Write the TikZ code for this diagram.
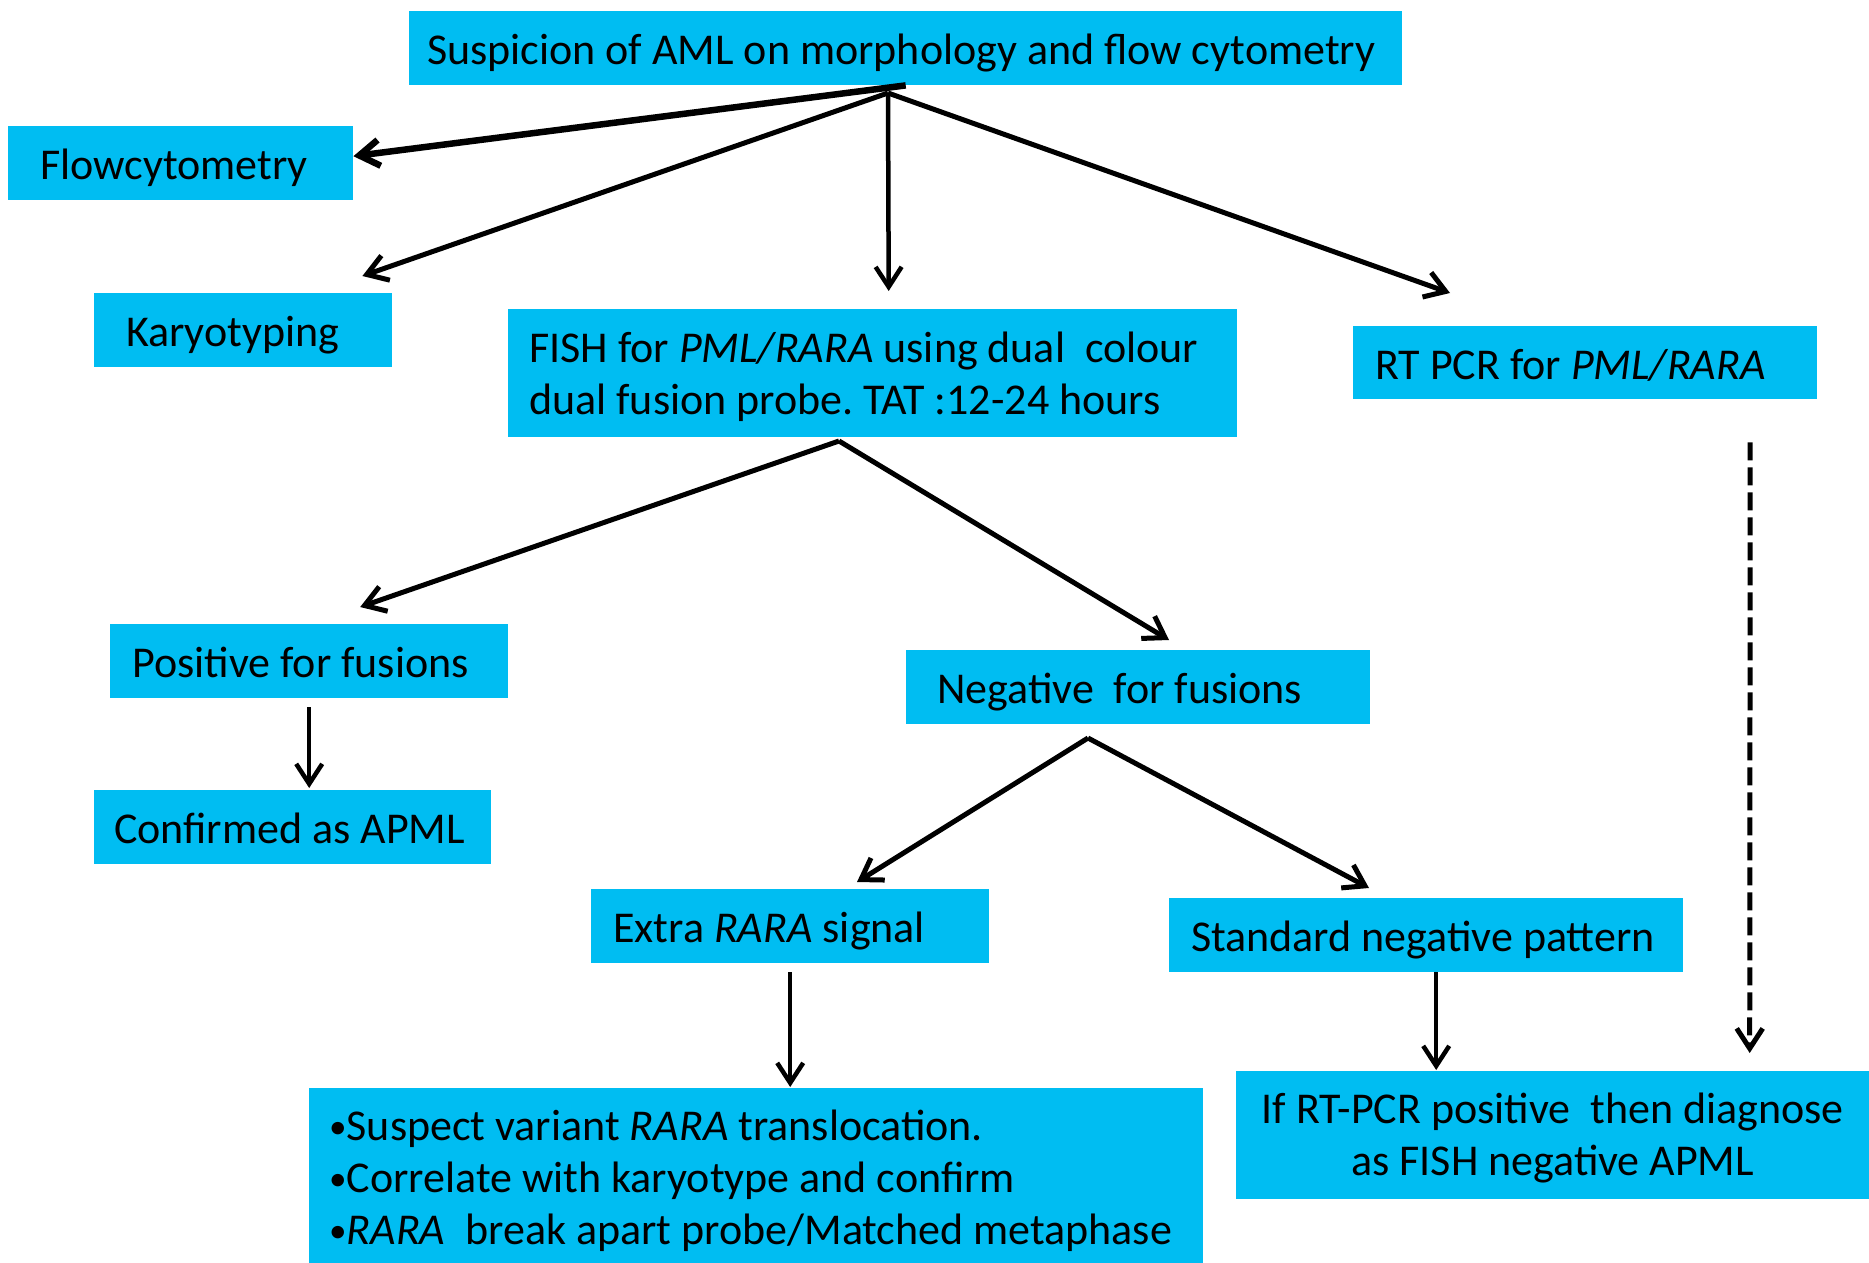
\documentclass[tikz,border=0pt]{standalone}
\usepackage{fontspec}
\setmainfont{Carlito}
\usepackage{tikz}
\usetikzlibrary{arrows.meta, positioning}
\definecolor{boxcyan}{RGB}{0,189,242}
\newcommand{\blt}{\raisebox{2pt}{\scalebox{0.8}{•}}}

\begin{document}
\begin{tikzpicture}[x=1pt, y=-1pt,
    box/.style={fill=boxcyan, anchor=north west, inner ysep=0pt, align=left,
        font=\fontsize{44}{52}\selectfont, text height=38pt, text depth=5pt,
        execute at begin node={\spaceskip=\fontdimen2\font\xspaceskip=\fontdimen2\font}},
    arr/.style={line width=5pt, -{Straight Barb[length=20pt,width=26pt]}}]
            \useasboundingbox (0,0) rectangle (1869,1263);
            \node[box, minimum width=993pt, minimum height=74pt, inner xsep=18pt, text width=957pt] (1) at (409,11) {Suspicion of AML on morphology and flow cytometry};
            \node[box, minimum width=345pt, minimum height=74pt, inner xsep=32pt, text width=281pt] (2) at (8,126) {Flowcytometry};
            \node[box, minimum width=298pt, minimum height=74pt, inner xsep=32pt, text width=234pt] (3) at (94,293) {Karyotyping};
            \node[box, minimum width=729pt, minimum height=128pt, inner xsep=21pt, text width=687pt, text depth=59pt] (4) at (508,309) {FISH for \textit{PML/RARA} using dual\ \ colour\\dual fusion probe. TAT :12-24 hours};
            \node[box, minimum width=464pt, minimum height=73pt, inner xsep=22pt, text width=420pt] (5) at (1353,326) {RT PCR for \textit{PML/RARA}};
            \node[box, minimum width=398pt, minimum height=74pt, inner xsep=22pt, text width=354pt] (6) at (110,624) {Positive for fusions};
            \node[box, minimum width=397pt, minimum height=74pt, inner xsep=20pt, text width=357pt] (7) at (94,790) {Confirmed as APML};
            \node[box, minimum width=464pt, minimum height=74pt, inner xsep=31pt, text width=402pt] (8) at (906,650) {Negative\ \ for fusions};
            \node[box, minimum width=398pt, minimum height=74pt, inner xsep=22pt, text width=354pt] (9) at (591,889) {Extra \textit{RARA} signal};
            \node[box, minimum width=514pt, minimum height=74pt, inner xsep=22pt, text width=470pt] (10) at (1169,898) {Standard negative pattern};
            \node[box, minimum width=894pt, minimum height=175pt, inner xsep=20pt, text width=854pt, text depth=109pt] (11) at (309,1088) {\blt Suspect variant \textit{RARA} translocation.\\\blt Correlate with karyotype and confirm\\\blt\textit{RARA}\ \ break apart probe/Matched metaphase};
            \node[box, minimum width=633pt, minimum height=128pt, inner xsep=8pt, text width=617pt, text depth=61pt, align=center] (12) at (1236,1071) {If RT-PCR positive\ \ then diagnose\\as FISH negative APML};

            \coordinate (f1) at (888,93);
            \coordinate (f2) at (839,441);
            \coordinate (f3) at (1088,738);

            \draw[arr, line width=6.5pt] (1.south) -- ([yshift=7pt]2.east);
            \draw[arr] (f1) -- ([xshift=-30pt,yshift=17pt]3.north east);
            \draw[arr, line width=4.5pt] (f1) -- ([xshift=16pt,yshift=18pt]4.north);
            \draw[arr] (f1) -- ([xshift=97pt,yshift=33pt]5.north west);
            \draw[arr] (f2) -- ([xshift=51pt,yshift=17pt]6.north);
            \draw[arr] (f2) -- ([xshift=263pt,yshift=10pt]8.north west);
            \draw[arr, line width=4.5pt, shorten <=9pt, shorten >=2pt] (6.south) -- (6.south |- 7.north);
            \draw[arr] (f3) -- ([xshift=266pt,yshift=7pt]9.north west);
            \draw[arr] (f3) -- ([xshift=200pt,yshift=10pt]10.north west);
            \draw[arr, line width=4.5pt, shorten <=9pt, shorten >=1pt] (9.south) -- (9.south |- 11.north);
            \draw[arr, line width=4.5pt, shorten >=1pt] ([xshift=10pt]10.south) -- ([xshift=10pt]10.south |- 12.north);
            \draw[arr, dash pattern=on 18pt off 7pt] ([xshift=165pt,yshift=-43pt]5.south) -- ([xshift=197pt,yshift=18pt]12.north);
\end{tikzpicture}
\end{document}
